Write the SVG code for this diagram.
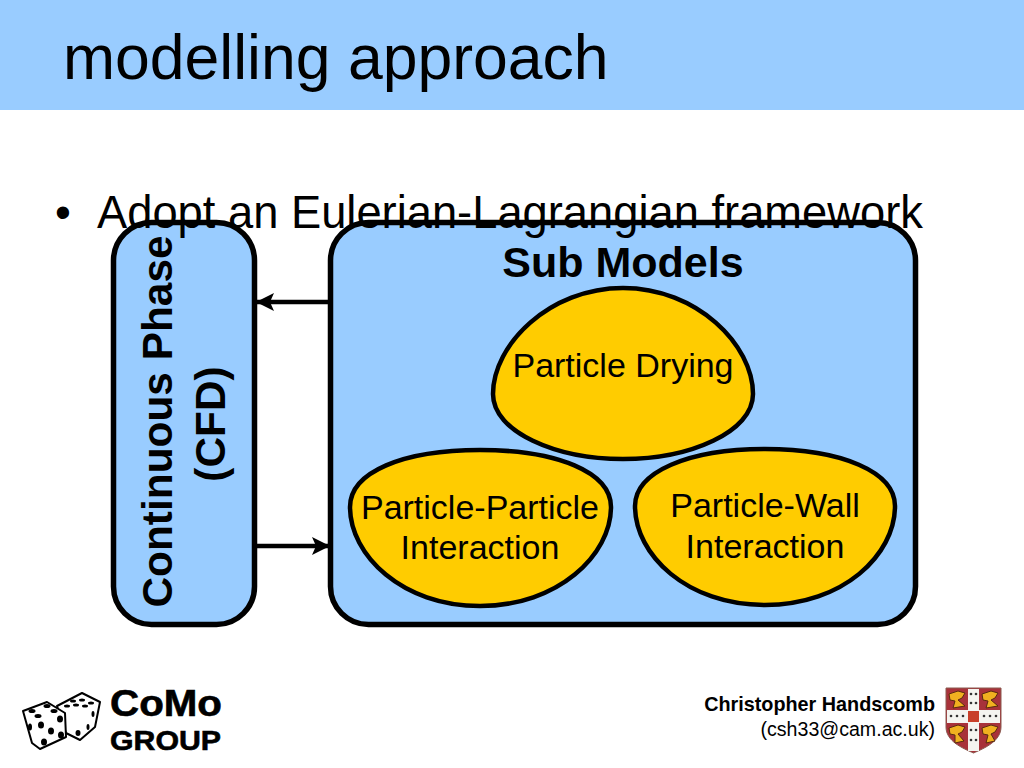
<svg xmlns="http://www.w3.org/2000/svg" width="1024" height="768" viewBox="0 0 1024 768">
<style>
text{font-family:"Liberation Sans",Arial,sans-serif;fill:#000}
.box{fill:#99ccff;stroke:#000;stroke-width:5.500}
.blob{fill:#ffcc00;stroke:#000;stroke-width:4.500}
.lbl{font-size:34px;text-anchor:middle}
.big{font-weight:bold;font-size:42.400px;text-anchor:middle}
.conn{stroke:#000;stroke-width:4.500;fill:none;marker-end:url(#ah)}
.die{fill:#fff;stroke:#000;stroke-width:2;stroke-linejoin:round}
.pip{fill:#000}
.lion{fill:#f0b020;stroke:#5a2a10;stroke-width:1}
.erm{fill:#333}
</style>
<defs>
<marker id="ah" markerUnits="userSpaceOnUse" markerWidth="20" markerHeight="20" refX="18" refY="10" orient="auto"><path d="M0 1L18 10L0 19L4 10Z" fill="#000"/></marker>
</defs>
<rect id="header" x="0" y="0" width="1024" height="110" fill="#99ccff"/>
<text x="63" y="78.500" font-size="62.500">modelling approach</text>
<g id="connectors">
<line class="conn" x1="330" y1="302" x2="256" y2="302"/>
<line class="conn" x1="255" y1="546" x2="330" y2="546"/>
</g>
<g id="continuous-phase">
<rect class="box" x="113.500" y="222.500" width="141" height="402" rx="38" ry="38"/>
<text class="big" transform="translate(172 421.500) rotate(-90)">Continuous Phase</text>
<text class="big" transform="translate(225 424) rotate(-90)">(CFD)</text>
</g>
<g id="sub-models">
<rect class="box" x="330.500" y="222.500" width="585" height="402" rx="38" ry="38"/>
<text x="623" y="277" font-size="43" font-weight="bold" text-anchor="middle">Sub Models</text>
</g>
<g id="bullet">
<text x="55" y="228" font-size="45.300">•</text>
<text x="97" y="228" font-size="45.300">Adopt an Eulerian-Lagrangian framework</text>
</g>
<g id="particle-drying">
<path class="blob" d="M623 288C697 288 753 345 753 394C753 432 690 459 623 459C556 459 493 432 493 394C493 345 549 288 623 288Z"/>
<text class="lbl" x="623" y="377">Particle Drying</text>
</g>
<g id="particle-particle">
<path class="blob" d="M480 450C557 450 611 472 611 507C611 555 558 606 480 606C402 606 350 555 350 507C350 472 403 450 480 450Z"/>
<text class="lbl" x="480" y="519">Particle-Particle</text>
<text class="lbl" x="480" y="559">Interaction</text>
</g>
<g id="particle-wall">
<path class="blob" d="M765 449C842 449 895 472 895 506C895 555 843 605 765 605C687 605 635 555 635 506C635 472 688 449 765 449Z"/>
<text class="lbl" x="765" y="517">Particle-Wall</text>
<text class="lbl" x="765" y="558">Interaction</text>
</g>
<g id="como-logo">
<path class="die" d="M57 706L82 693L100 702L95 727L80 740L66 733Z"/>
<ellipse class="pip" cx="73" cy="701" rx="3" ry="1.500"/><ellipse class="pip" cx="82" cy="700" rx="3" ry="1.500"/><ellipse class="pip" cx="91" cy="703" rx="3" ry="1.500"/>
<ellipse class="pip" cx="67" cy="706" rx="3" ry="1.500"/><ellipse class="pip" cx="76" cy="705" rx="3" ry="1.500"/><ellipse class="pip" cx="85" cy="706" rx="3" ry="1.500"/>
<ellipse class="pip" cx="93" cy="714" rx="1.500" ry="3"/><ellipse class="pip" cx="88" cy="727" rx="1.500" ry="3"/><ellipse class="pip" cx="78" cy="733" rx="2.500" ry="3"/>
<path class="die" d="M23 711L47 702L65 713L66 737L40 749L32 743Z"/>
<ellipse class="pip" cx="32" cy="711" rx="3.500" ry="2"/><ellipse class="pip" cx="47" cy="706" rx="3.500" ry="2"/><ellipse class="pip" cx="38" cy="716" rx="3.500" ry="2"/><ellipse class="pip" cx="54" cy="711" rx="3.500" ry="2"/>
<ellipse class="pip" cx="41" cy="725" rx="3" ry="3.500"/><ellipse class="pip" cx="60" cy="719" rx="3" ry="3.500"/><ellipse class="pip" cx="51" cy="731" rx="3" ry="3.500"/><ellipse class="pip" cx="44" cy="742" rx="3" ry="3.500"/><ellipse class="pip" cx="61" cy="735" rx="3" ry="3.500"/><ellipse class="pip" cx="30" cy="727" rx="2" ry="3.500"/>
<text x="110" y="716" font-size="36" font-weight="bold" stroke="#000" stroke-width=".6" textLength="112" lengthAdjust="spacingAndGlyphs">CoMo</text>
<text x="110" y="750" font-size="27" font-weight="bold" stroke="#000" stroke-width=".6" textLength="111" lengthAdjust="spacingAndGlyphs">GROUP</text>
</g>
<g id="author">
<text x="935" y="711" font-size="19.800" font-weight="bold" text-anchor="end">Christopher Handscomb</text>
<text x="935" y="736" font-size="19.600" text-anchor="end">(csh33@cam.ac.uk)</text>
</g>
<g id="crest">
<path d="M946 688H1001V727C1001 741 985 748 973.500 753C962 748 946 741 946 727Z" fill="#a8323a" stroke="#8a5a50" stroke-width="1"/>
<rect x="968" y="689" width="11" height="62" fill="#f4f4f0"/>
<rect x="947" y="710" width="53" height="13" fill="#f4f4f0"/>
<rect x="968" y="711" width="11" height="11" fill="#c8402a"/>
<path class="lion" d="M949 694L958 691L965 693L962 698L958 700L965 706L953 708L955 701L950 700Z"/>
<path class="lion" d="M982 694L991 691L998 693L995 698L991 700L998 706L986 708L988 701L983 700Z"/>
<path class="lion" d="M949 728L958 725L965 727L962 732L958 734L964 741L955 743L955 735L950 734Z"/>
<path class="lion" d="M982 728L991 725L998 727L995 732L991 734L995 741L986 743L988 735L983 734Z"/>
<g class="erm">
<circle cx="971" cy="694" r="1.300"/><circle cx="976" cy="694" r="1.300"/><circle cx="971" cy="703" r="1.300"/><circle cx="976" cy="703" r="1.300"/>
<circle cx="971" cy="730" r="1.300"/><circle cx="976" cy="730" r="1.300"/><circle cx="971" cy="740" r="1.300"/><circle cx="976" cy="740" r="1.300"/>
<circle cx="951" cy="716" r="1.300"/><circle cx="957" cy="716" r="1.300"/><circle cx="963" cy="716" r="1.300"/><circle cx="984" cy="716" r="1.300"/><circle cx="990" cy="716" r="1.300"/><circle cx="996" cy="716" r="1.300"/>
</g>
</g>
</svg>
